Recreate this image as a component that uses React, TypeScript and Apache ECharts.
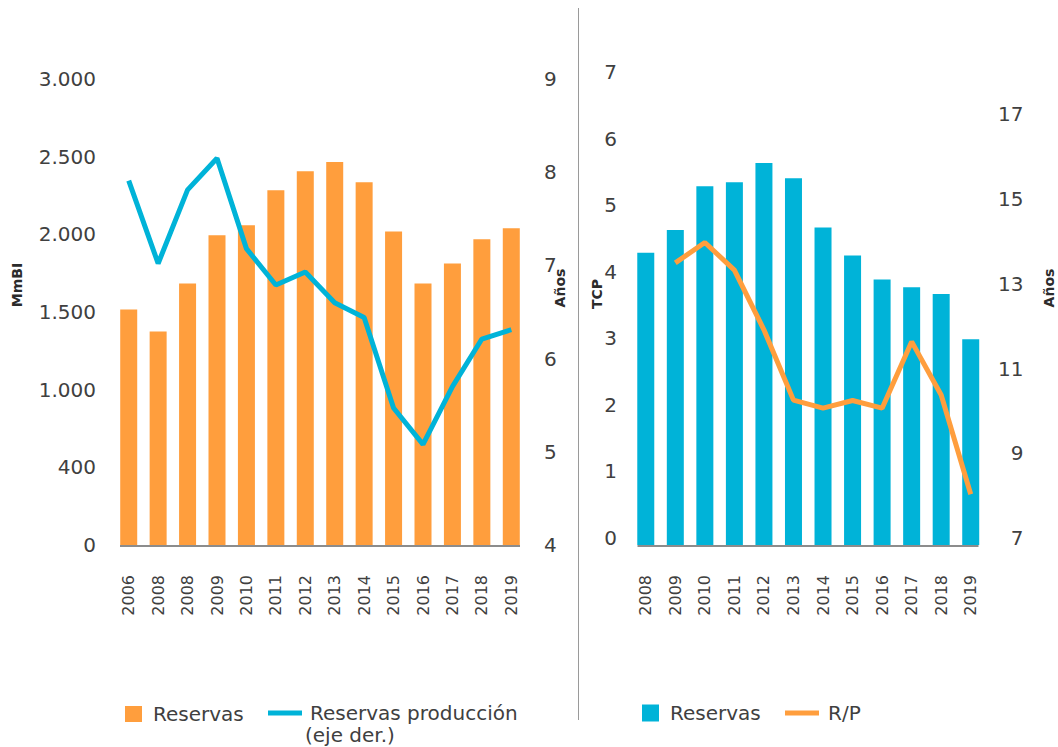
import React, { useEffect, useRef } from "react";
import * as echarts from "echarts";

// Left panel
const yearsLeft = ["2006", "2008", "2008", "2009", "2010", "2011", "2012", "2013", "2014", "2015", "2016", "2017", "2018", "2019"];
const reservasLeft = [1516, 1374, 1684, 1994, 2058, 2284, 2406, 2465, 2335, 2019, 1684, 1813, 1968, 2039];
const reservasProduccion = [7.91, 7.02, 7.81, 8.15, 7.18, 6.79, 6.93, 6.6, 6.44, 5.47, 5.08, 5.7, 6.21, 6.31];
const leftTickLabels = ["0", "400", "1.000", "1.500", "2.000", "2.500", "3.000"];

// Right panel
const yearsRight = ["2008", "2009", "2010", "2011", "2012", "2013", "2014", "2015", "2016", "2017", "2018", "2019"];
const reservasTCP = [4.39, 4.73, 5.39, 5.45, 5.74, 5.51, 4.77, 4.35, 3.99, 3.87, 3.77, 3.09];
const rpAnios = [null, 13.66, 14.14, 13.49, 12.08, 10.42, 10.23, 10.41, 10.23, 11.8, 10.54, 8.2];

const ORANGE = "#FF9E3D";
const BLUE = "#00B3D8";
const TEXT = "#404040";
const FONT = "DejaVu Sans";

export default function App() {
  const ref = useRef<HTMLDivElement>(null);
  useEffect(() => {
    document.body.style.margin = "0";
    const chart = echarts.init(ref.current!, null, { renderer: "svg" });
    const tickLabel = {
      color: TEXT,
      fontFamily: FONT,
      fontSize: 20,
    };
    const shifted = { verticalAlign: "bottom", lineHeight: 14 };
    const xLabel = {
      color: TEXT,
      fontFamily: FONT,
      fontSize: 16,
      rotate: 90,
      margin: 30,
      interval: 0,
    };
    const legendText = { color: TEXT, fontFamily: FONT, fontSize: 20, lineHeight: 20 };
    const nameStyle = (text: string, x: number, y: number) => ({
      type: "text",
      x,
      y,
      rotation: Math.PI / 2,
      style: {
        text,
        fill: "#2b2b2b",
        font: `bold 14px "${FONT}"`,
        align: "center",
        verticalAlign: "middle",
        textAlign: "center",
        textVerticalAlign: "middle",
      },
    });
    const option: any = {
      animation: false,
      grid: [
        { left: 114, top: 79, width: 412, height: 466 },
        { left: 631, top: 79, width: 354.5, height: 466 },
      ],
      xAxis: [
        {
          type: "category",
          gridIndex: 0,
          data: yearsLeft,
          axisLine: { show: false },
          axisTick: { show: false },
          axisLabel: { ...xLabel, formatter: (_v: string, i: number) => yearsLeft[i] },
        },
        {
          type: "category",
          gridIndex: 1,
          data: yearsRight,
          axisLine: { show: false },
          axisTick: { show: false },
          axisLabel: xLabel,
        },
      ],
      yAxis: [
        {
          type: "value",
          gridIndex: 0,
          min: 0,
          max: 3000,
          interval: 500,
          splitLine: { show: false },
          axisLine: { show: false },
          axisTick: { show: false },
          axisLabel: {
            ...tickLabel,
            margin: 18,
            formatter: (v: number) => leftTickLabels[Math.round(v / 500)] ?? "",
          },
        },
        {
          type: "value",
          gridIndex: 0,
          position: "right",
          min: 4,
          max: 9,
          interval: 1,
          splitLine: { show: false },
          axisLine: { show: false },
          axisTick: { show: false },
          axisLabel: { ...tickLabel, margin: 18 },
        },
        {
          type: "value",
          gridIndex: 1,
          min: 0,
          max: 7,
          interval: 1,
          splitLine: { show: false },
          axisLine: { show: false },
          axisTick: { show: false },
          axisLabel: { ...tickLabel, ...shifted, margin: 14 },
        },
        {
          type: "value",
          gridIndex: 1,
          position: "right",
          min: 7,
          max: 18,
          interval: 2,
          splitLine: { show: false },
          axisLine: { show: false },
          axisTick: { show: false },
          axisLabel: {
            ...tickLabel,
            ...shifted,
            margin: 38,
            align: "right",
            formatter: (v: number) => (v === 18 ? "" : String(v)),
          },
        },
      ],
      legend: [
        {
          data: [{ name: "Reservas", icon: "rect", itemStyle: { color: ORANGE } }],
          left: 120,
          top: 699,
          itemWidth: 17,
          itemHeight: 16,
          selectedMode: false,
          textStyle: { ...legendText, padding: [0, 0, 0, 6] },
        },
        {
          data: [{ name: "Reservas producción", icon: "rect", itemStyle: { color: BLUE, borderWidth: 0 } }],
          left: 263,
          top: 698,
          itemWidth: 34,
          itemHeight: 5,
          selectedMode: false,
          textStyle: { ...legendText, padding: [0, 0, 0, 3] },
        },
        {
          data: [{ name: "Reservas", icon: "rect", itemStyle: { color: BLUE } }],
          left: 637,
          top: 698,
          itemWidth: 17,
          itemHeight: 17,
          selectedMode: false,
          textStyle: { ...legendText, padding: [0, 0, 0, 6] },
        },
        {
          data: [{ name: "R/P", icon: "rect", itemStyle: { color: ORANGE, borderWidth: 0 } }],
          left: 780,
          top: 698,
          itemWidth: 34,
          itemHeight: 5,
          selectedMode: false,
          textStyle: { ...legendText, padding: [0, 0, 0, 4] },
        },
      ],
      series: [
        {
          name: "Reservas",
          type: "bar",
          xAxisIndex: 0,
          yAxisIndex: 0,
          data: reservasLeft,
          barWidth: 17,
          itemStyle: { color: ORANGE },
        },
        {
          name: "Reservas producción",
          type: "line",
          xAxisIndex: 0,
          yAxisIndex: 1,
          data: reservasProduccion,
          symbol: "none",
          color: BLUE,
          lineStyle: { color: BLUE, width: 5 },
        },
        {
          name: "Reservas",
          type: "bar",
          xAxisIndex: 1,
          yAxisIndex: 2,
          data: reservasTCP,
          barWidth: 17,
          itemStyle: { color: BLUE },
        },
        {
          name: "R/P",
          type: "line",
          xAxisIndex: 1,
          yAxisIndex: 3,
          data: rpAnios,
          symbol: "none",
          color: ORANGE,
          lineStyle: { color: ORANGE, width: 5 },
        },
      ],
      graphic: [
        {
          type: "line",
          shape: { x1: 578.5, y1: 8, x2: 578.5, y2: 720 },
          style: { stroke: "#9a9a9a", lineWidth: 1 },
        },
        {
          type: "line",
          shape: { x1: 120, y1: 546, x2: 520, y2: 546 },
          style: { stroke: "#8c8c8c", lineWidth: 2 },
        },
        {
          type: "line",
          shape: { x1: 637.5, y1: 546, x2: 978.5, y2: 546 },
          style: { stroke: "#8c8c8c", lineWidth: 2 },
        },
        nameStyle("MmBI", 17, 285),
        nameStyle("Años", 560, 288),
        nameStyle("TCP", 597, 294),
        nameStyle("Años", 1049, 288),
        {
          type: "text",
          x: 305,
          y: 735,
          style: {
            text: "(eje der.)",
            fill: TEXT,
            font: `20px "${FONT}"`,
            lineHeight: 20,
            verticalAlign: "middle",
            textVerticalAlign: "middle",
          },
        },
      ],
    };
    chart.setOption(option);
    return () => chart.dispose();
  }, []);
  return <div ref={ref} style={{ width: 1058, height: 747 }} />;
}
